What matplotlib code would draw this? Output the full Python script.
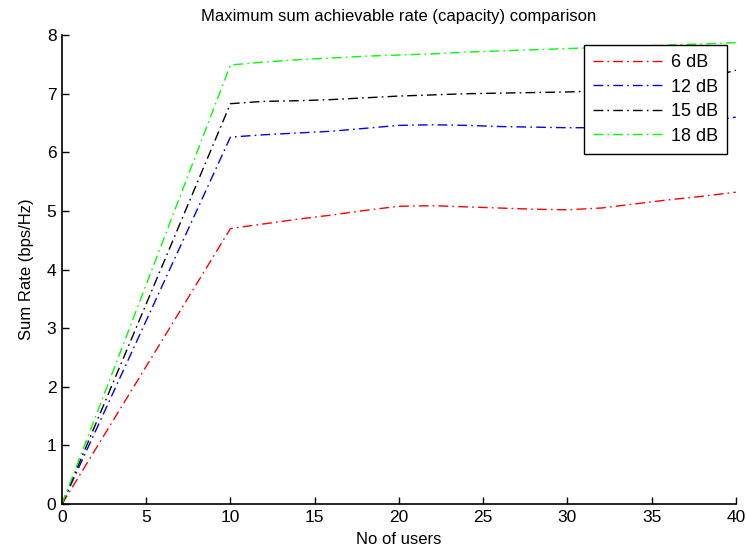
import numpy as np
import matplotlib.pyplot as plt

users = [0, 10, 12, 14, 16, 18, 20, 22, 24, 26, 28, 30, 32, 34, 36, 38, 40]
rate_6db = [0, 4.70, 4.78, 4.86, 4.93, 5.01, 5.08, 5.09, 5.07, 5.05, 5.03, 5.02, 5.05, 5.12, 5.19, 5.25, 5.32]
rate_12db = [0, 6.26, 6.30, 6.33, 6.36, 6.41, 6.46, 6.47, 6.46, 6.44, 6.43, 6.42, 6.42, 6.42, 6.45, 6.52, 6.60]
rate_15db = [0, 6.83, 6.87, 6.88, 6.90, 6.93, 6.96, 6.98, 7.00, 7.01, 7.02, 7.03, 7.05, 7.08, 7.14, 7.25, 7.40]
rate_18db = [0, 7.49, 7.54, 7.58, 7.61, 7.64, 7.66, 7.68, 7.71, 7.73, 7.75, 7.77, 7.79, 7.81, 7.83, 7.85, 7.87]

plt.rcParams['font.family'] = ['Liberation Sans', 'DejaVu Sans']

fig = plt.figure(figsize=(7.47, 5.57), dpi=100)
ax = fig.add_axes([0.083, 0.095, 0.902, 0.842])

ls = (0, (7, 3, 1.2, 3))
ax.plot(users, rate_6db, color='#ff0000', linestyle=ls, lw=1, label='6 dB')
ax.plot(users, rate_12db, color='#0000ff', linestyle=ls, lw=1, label='12 dB')
ax.plot(users, rate_15db, color='#000000', linestyle=ls, lw=1, label='15 dB')
ax.plot(users, rate_18db, color='#00ff00', linestyle=ls, lw=1, label='18 dB')

ax.set_xlim(0, 40)
ax.set_ylim(0, 8)
ax.set_xticks(np.arange(0, 41, 5))
ax.set_yticks(np.arange(0, 9, 1))
ax.tick_params(direction='in', length=5, labelsize=12.5, width=1, pad=4)
ax.spines['top'].set_visible(False)
ax.spines['right'].set_visible(False)
ax.spines['left'].set_linewidth(1.2)
ax.spines['bottom'].set_linewidth(1.2)

ax.set_xlabel('No of users', fontsize=12, labelpad=5)
ax.set_ylabel('Sum Rate (bps/Hz)', fontsize=12, labelpad=9)
ax.set_title('Maximum sum achievable rate (capacity) comparison', fontsize=12, pad=10)

leg = ax.legend(loc='upper right', bbox_to_anchor=(0.987, 0.979), borderaxespad=0,
                fontsize=13, fancybox=False, framealpha=1, edgecolor='black',
                handlelength=3.8, borderpad=0.5, labelspacing=0.42, handletextpad=0.5)
leg.get_frame().set_linewidth(1)

fig.savefig('out.png', dpi=100)
